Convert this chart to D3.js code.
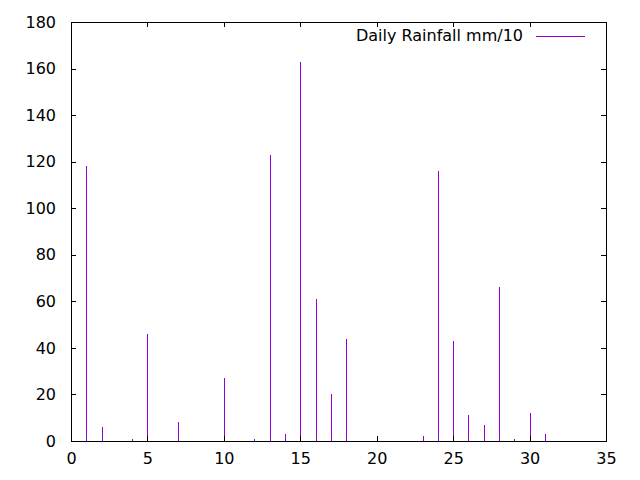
<!DOCTYPE html>
<html><head><meta charset="utf-8">
<script src="https://cdn.jsdelivr.net/npm/d3@7"></script>
<style>
html,body{margin:0;padding:0;background:#fff;}
svg{display:block;}
text{font-family:"DejaVu Sans",sans-serif;font-size:16px;fill:#000;}
</style></head>
<body><svg id="c" width="640" height="480"></svg>
<script>
const days =     [1,  2, 4, 5, 7, 10, 12, 13, 14, 15, 16, 17, 18, 23, 24, 25, 26, 27, 28, 29, 30, 31];
const rainfall = [118, 6, 1, 46, 8, 27, 1, 123, 3, 163, 61, 20, 44, 2, 116, 43, 11, 7, 66, 1, 12, 3];
const xTicks = [0, 5, 10, 15, 20, 25, 30, 35];
const yTicks = [0, 20, 40, 60, 80, 100, 120, 140, 160, 180];
const seriesName = "Daily Rainfall mm/10";

const svg = d3.select("#c");
const L = 71, R = 606, T = 22, B = 441;
const x = d3.scaleLinear().domain([0, 35]).range([L, R]);
const y = d3.scaleLinear().domain([0, 180]).range([B, T]);
const color = "#9400D3";
const px = v => Math.round(v) + 0.5;

svg.append("g").selectAll("line").data(days).join("line")
  .attr("x1", (d) => px(x(d))).attr("x2", (d) => px(x(d)))
  .attr("y1", y(0)).attr("y2", (d, i) => Math.round(y(rainfall[i])))
  .attr("stroke", color).attr("stroke-width", 1)
  .attr("shape-rendering", "crispEdges");

function styleAxis(g) {
  g.select(".domain").remove();
  g.selectAll("line").attr("stroke", "#000").attr("shape-rendering", "crispEdges");
  g.selectAll("text").attr("font-family", "DejaVu Sans").attr("font-size", 16).attr("fill", "#000");
}

svg.append("g").attr("transform", `translate(0,${B})`)
  .call(d3.axisBottom(x).tickValues(xTicks).tickSize(-5).tickSizeOuter(0).tickPadding(12).tickFormat(d3.format("d")))
  .call(styleAxis);
svg.append("g").attr("transform", `translate(0,${T})`)
  .call(d3.axisTop(x).tickValues(xTicks).tickSize(-5).tickSizeOuter(0).tickFormat(""))
  .call(styleAxis);
svg.append("g").attr("transform", `translate(${L},0)`)
  .call(d3.axisLeft(y).tickValues(yTicks).tickSize(-5).tickSizeOuter(0).tickPadding(15).tickFormat(d3.format("d")))
  .call(styleAxis);
svg.append("g").attr("transform", `translate(${R},0)`)
  .call(d3.axisRight(y).tickValues(yTicks).tickSize(-5).tickSizeOuter(0).tickFormat(""))
  .call(styleAxis);

svg.append("rect").attr("x", L + 0.5).attr("y", T + 0.5)
  .attr("width", R - L).attr("height", B - T)
  .attr("fill", "none").attr("stroke", "#000").attr("stroke-width", 1)
  .attr("shape-rendering", "crispEdges");

svg.append("text").attr("x", 523).attr("y", 41).attr("text-anchor", "end").text(seriesName);
svg.append("line").attr("x1", 536).attr("x2", 585).attr("y1", 36.5).attr("y2", 36.5)
  .attr("stroke", color).attr("stroke-width", 1).attr("shape-rendering", "crispEdges");
</script></body></html>
